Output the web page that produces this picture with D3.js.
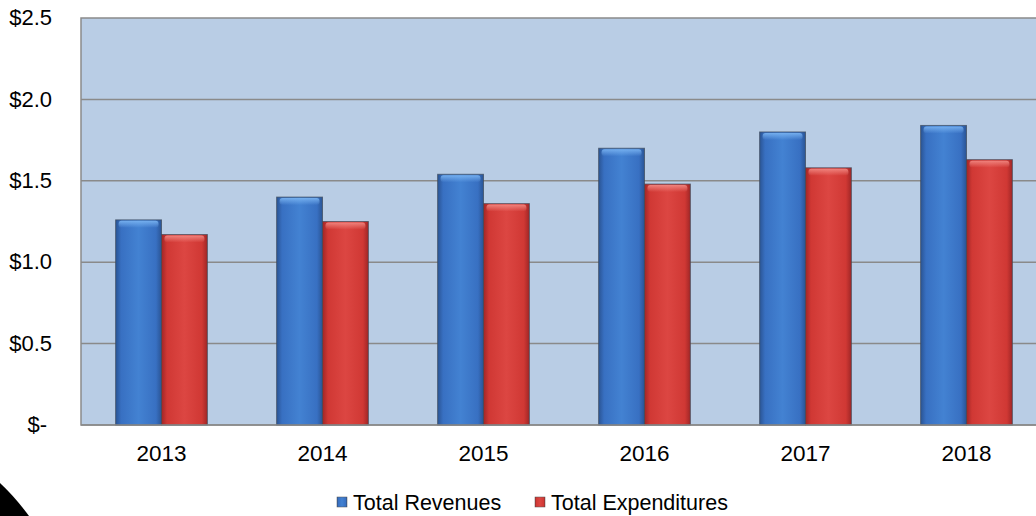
<!DOCTYPE html>
<html>
<head>
<meta charset="utf-8">
<script src="https://cdn.jsdelivr.net/npm/d3@7"></script>
<style>
  body { margin: 0; background: #fff; }
  svg { display: block; font-family: 'Liberation Sans', Arial, sans-serif; }
</style>
</head>
<body>
<script>
const years = ['2013', '2014', '2015', '2016', '2017', '2018'];
const revenues = [1.26, 1.40, 1.54, 1.70, 1.80, 1.84];
const expenditures = [1.17, 1.25, 1.36, 1.48, 1.58, 1.63];
const seriesNames = ['Total Revenues', 'Total Expenditures'];
const yTicks = [0, 0.5, 1.0, 1.5, 2.0, 2.5];

const width = 1036;
const height = 516;
const plot = { left: 81, right: 1047, top: 18, bottom: 425 };

const svg = d3.select('body')
  .append('svg')
  .attr('width', width)
  .attr('height', height);

const defs = svg.append('defs');

// bar shading: dark edges, lighter middle, like the office 3d style
const palettes = [
  { id: 'blue', edge: '#2a5494', mid: '#3870c2', light: '#4382d2', top: '#7ab4f2' },
  { id: 'red', edge: '#a02626', mid: '#d03834', light: '#dc4642', top: '#f28a84' }
];

palettes.forEach(p => {
  const g = defs.append('linearGradient').attr('id', `grad-${ p.id }`)
    .attr('x1', 0).attr('x2', 1).attr('y1', 0).attr('y2', 0);
  [[0, p.edge], [0.12, p.mid], [0.5, p.light], [0.88, p.mid], [1, p.edge]]
    .forEach(([o, c]) => g.append('stop').attr('offset', o).attr('stop-color', c));

  const t = defs.append('linearGradient').attr('id', `top-${ p.id }`)
    .attr('x1', 0).attr('x2', 0).attr('y1', 0).attr('y2', 1);
  t.append('stop').attr('offset', 0).attr('stop-color', p.top).attr('stop-opacity', 0.9);
  t.append('stop').attr('offset', 1).attr('stop-color', p.top).attr('stop-opacity', 0);
});

const x = d3.scaleBand()
  .domain(years)
  .range([plot.left, plot.right])
  .paddingInner(0.43)
  .paddingOuter(0.215);

const xSub = d3.scaleBand()
  .domain(seriesNames)
  .range([0, x.bandwidth()]);

const y = d3.scaleLinear()
  .domain([0, 2.5])
  .range([plot.bottom, plot.top]);

// plot background
svg.append('rect')
  .attr('x', plot.left)
  .attr('y', plot.top)
  .attr('width', plot.right - plot.left)
  .attr('height', plot.bottom - plot.top)
  .attr('fill', '#b9cde5')
  .attr('stroke', '#8a8a8a')
  .attr('stroke-width', 1.5);

// gridlines
svg.append('g')
  .selectAll('line')
  .data(yTicks.slice(1, -1))
  .enter()
  .append('line')
  .attr('x1', plot.left)
  .attr('x2', plot.right)
  .attr('y1', d => y(d))
  .attr('y2', d => y(d))
  .attr('stroke', '#8a8a8a')
  .attr('stroke-width', 1.5);

// bars
const data = years.map((yr, i) => ({
  year: yr,
  values: [
    { name: seriesNames[0], value: revenues[i], p: palettes[0] },
    { name: seriesNames[1], value: expenditures[i], p: palettes[1] }
  ]
}));

const groups = svg.append('g')
  .selectAll('g')
  .data(data)
  .enter()
  .append('g')
  .attr('transform', d => `translate(${ x(d.year) },0)`);

const bars = groups.selectAll('g')
  .data(d => d.values)
  .enter()
  .append('g');

bars.append('rect')
  .attr('x', d => xSub(d.name))
  .attr('y', d => y(d.value))
  .attr('width', xSub.bandwidth())
  .attr('height', d => y(0) - y(d.value))
  .attr('fill', d => `url(#grad-${ d.p.id })`)
  .attr('stroke', '#3f4a5a')
  .attr('stroke-opacity', 0.7)
  .attr('stroke-width', 1);

bars.append('rect')
  .attr('x', d => xSub(d.name) + 3)
  .attr('y', d => y(d.value) + 1)
  .attr('width', xSub.bandwidth() - 6)
  .attr('height', 7)
  .attr('rx', 3)
  .attr('fill', d => `url(#top-${ d.p.id })`);

// baseline
svg.append('line')
  .attr('x1', plot.left)
  .attr('x2', plot.right)
  .attr('y1', y(0))
  .attr('y2', y(0))
  .attr('stroke', '#8a8a8a')
  .attr('stroke-width', 1.5);

// y axis
const yAxis = svg.append('g')
  .attr('transform', 'translate(52,0)')
  .call(d3.axisLeft(y)
    .tickValues(yTicks)
    .tickSize(0)
    .tickPadding(0)
    .tickFormat(d => d === 0 ? '$-' : `$${ d.toFixed(1) }`));

yAxis.select('.domain').remove();
yAxis.selectAll('text')
  .attr('font-size', 22)
  .attr('font-family', "'Liberation Sans', Arial, sans-serif")
  .attr('fill', '#000')
  .attr('dy', '0.3em')
  .attr('dx', d => d === 0 ? -5 : 0);

// x axis
const xAxis = svg.append('g')
  .attr('transform', `translate(0,${ plot.bottom })`)
  .call(d3.axisBottom(x).tickSize(0).tickPadding(20));

xAxis.select('.domain').remove();
xAxis.selectAll('text')
  .attr('font-size', 22.5)
  .attr('font-family', "'Liberation Sans', Arial, sans-serif")
  .attr('fill', '#000');

// legend
const legend = svg.append('g')
  .attr('transform', 'translate(337,497)');

const legendItems = legend.selectAll('g')
  .data(palettes.map((p, i) => ({ p, name: seriesNames[i] })))
  .enter()
  .append('g')
  .attr('transform', (d, i) => `translate(${ i * 198 },0)`);

legendItems.append('rect')
  .attr('width', 10)
  .attr('height', 10)
  .attr('fill', d => `url(#grad-${ d.p.id })`)
  .attr('stroke', '#555')
  .attr('stroke-width', 0.5);

legendItems.append('text')
  .attr('x', 16)
  .attr('y', 13)
  .attr('font-size', 21.5)
  .text(d => d.name);

// bit of the black rounded frame in the lower left corner
svg.append('path')
  .attr('d', 'M0,483 Q15,497 29,516 L0,516 Z')
  .attr('fill', '#000');
</script>
</body>
</html>
